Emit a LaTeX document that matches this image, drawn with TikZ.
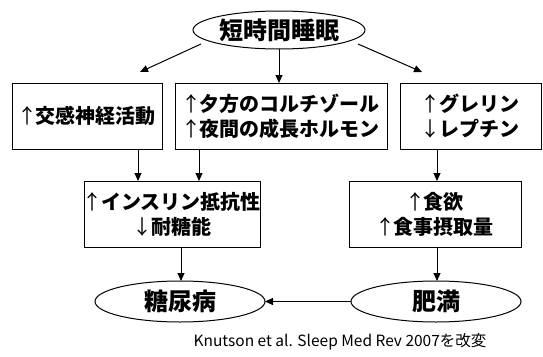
\documentclass[tikz,border=0pt]{standalone}
\usepackage{fontspec}
\setmainfont{Noto Sans CJK JP}
\usetikzlibrary{shapes.geometric,arrows.meta,calc}
\newcommand\uarr{\makebox[0.85em][c]{\mdseries ↑}}
\newcommand\darr{\makebox[0.85em][c]{\mdseries ↓}}
\tikzset{
  every node/.style={inner sep=0pt, outer sep=0pt},
  box/.style={draw, line width=1pt, rectangle, minimum height=66pt, align=center,
              font=\fontsize{20}{25}\selectfont\bfseries},
  oval/.style={draw, line width=1pt, ellipse, font=\fontsize{24}{28}\selectfont\bfseries},
  arr/.style={line width=1pt, -{Triangle[length=8pt,width=7pt]}},
}
\begin{document}
\begin{tikzpicture}[x=1pt,y=-1pt]
\useasboundingbox (0,0) rectangle (543,356);
% nodes
\node[oval, minimum width=172pt, minimum height=38pt] (top) at (279,30) {短時間睡眠};
\node[box, minimum width=149.5pt] (b1) at (87.25,116) {\uarr 交感神経活動};
\node[box, minimum width=212pt] (b2) at (281,116) {\uarr 夕方のコルチゾール\\\uarr 夜間の成長ホルモン};
\node[box, minimum width=141.5pt] (b3) at (470.75,116) {\uarr グレリン\\\darr レプチン};
\node[box, minimum width=171pt] (ba) at (172.5,214) {\uarr インスリン抵抗性\\\darr 耐糖能};
\node[box, minimum width=172pt] (bb) at (435,214) {\uarr 食欲\\\uarr 食事摂取量};
\node[oval, minimum width=170pt, minimum height=41pt] (dm) at (180,301.5) {糖尿病};
\node[oval, minimum width=170pt, minimum height=41pt] (hm) at (436,301.5) {肥満};
\node[font=\fontsize{15.5}{18}\selectfont] (cap) at (340,342) {Knutson et al. Sleep Med Rev 2007を改変};
% connector helper coordinates
\coordinate (s1) at (201,44);
\coordinate (t1) at (140,72);
\coordinate (s3) at (358,44);
\coordinate (t3) at (422,72);
\coordinate (a1) at ($(b1.south)+(50.75,0)$);
\coordinate (a2) at ($(b2.south)+(-82,0)$);
\coordinate (a3) at ($(b3.south)+(-33.75,0)$);
\coordinate (aa) at ($(ba.south)+(8.5,0)$);
\coordinate (ab) at ($(bb.south)+(2,0)$);
% connectors
\draw[arr] (s1) -- (t1);
\draw[arr] (s3) -- (t3);
\draw[arr] (top.south) -- (top.south |- b2.north);
\draw[arr] (a1) -- (a1 |- ba.north);
\draw[arr] (a2) -- (a2 |- ba.north);
\draw[arr] (a3) -- (a3 |- bb.north);
\draw[arr] (aa) -- (aa |- dm.north);
\draw[arr] (ab) -- (ab |- hm.north);
\draw[arr] (hm.west) -- (dm.east);
\end{tikzpicture}
\end{document}
